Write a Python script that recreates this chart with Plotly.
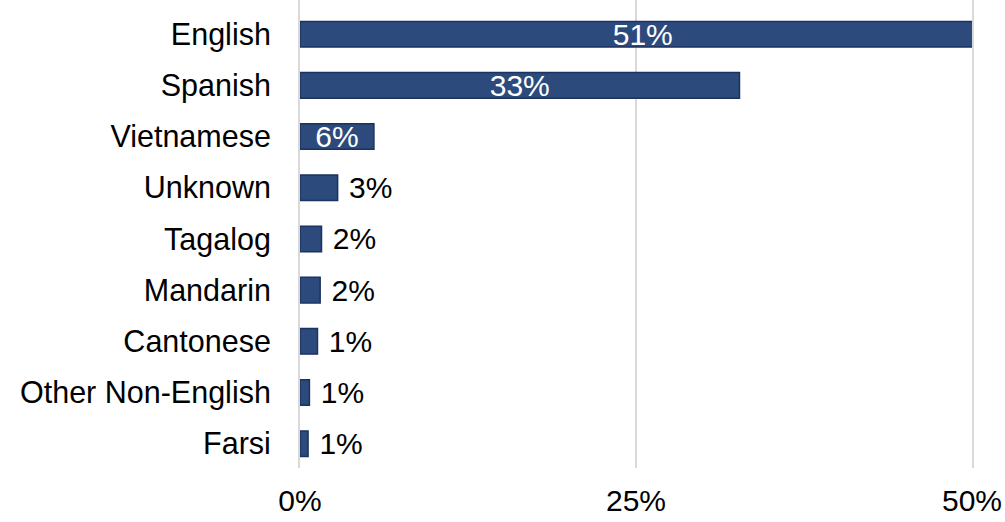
import plotly.graph_objects as go

# Share of records by language
languages = ["English", "Spanish", "Vietnamese", "Unknown", "Tagalog",
             "Mandarin", "Cantonese", "Other Non-English", "Farsi"]
shares = [0.51, 0.327, 0.055, 0.028, 0.016, 0.015, 0.013, 0.007, 0.006]
label_inside = [True, True, True, False, False, False, False, False, False]

x_ticks = [0, 0.25, 0.5]
x_tick_text = ["0%", "25%", "50%"]

font_family = "Liberation Sans, Arial, sans-serif"
navy = "#2c4a7c"
navy_edge = "#1b3360"
grid_grey = "#d9d9d9"

positions = ["inside" if k else "outside" for k in label_inside]
templates = ["%{x:.0%}" if k else "\u00a0%{x:.0%}" for k in label_inside]

fig = go.Figure()
fig.add_trace(go.Bar(
    y=languages,
    x=shares,
    orientation="h",
    width=0.5,
    marker=dict(color=navy, line=dict(color=navy_edge, width=1.5)),
    texttemplate=templates,
    textposition=positions,
    insidetextanchor="middle",
    constraintext="none",
    insidetextfont=dict(color="white", size=30, family=font_family),
    outsidetextfont=dict(color="black", size=30, family=font_family),
    cliponaxis=True,
    hoverinfo="skip",
))

fig.update_layout(
    width=1005,
    height=522,
    margin=dict(l=300, r=33, t=0, b=54),
    paper_bgcolor="white",
    plot_bgcolor="white",
    showlegend=False,
    font=dict(family=font_family, size=30, color="black"),
)
fig.update_xaxes(
    range=[0, 0.5],
    tickvals=x_ticks,
    ticktext=x_tick_text,
    showgrid=True,
    gridcolor=grid_grey,
    gridwidth=2,
    zeroline=False,
    showline=False,
    ticks="",
    ticklabelstandoff=12,
    tickfont=dict(size=30),
)
fig.update_yaxes(
    categoryorder="array",
    categoryarray=languages,
    range=[8.475, -0.668],
    showgrid=False,
    zeroline=False,
    # vertical lines at 0% and 50% (plot edges)
    showline=True,
    mirror=True,
    linecolor=grid_grey,
    linewidth=2,
    ticks="",
    ticklabelstandoff=21,
    tickfont=dict(size=30.5),
)

fig.write_html("out.html")
